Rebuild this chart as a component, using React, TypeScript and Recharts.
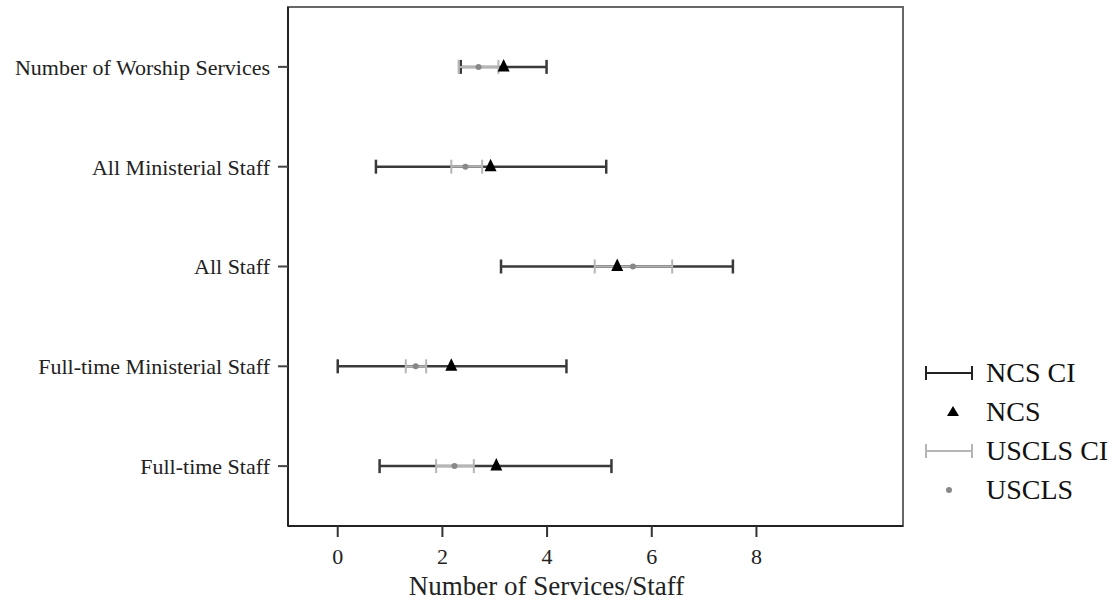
import React from "react"
import {
  ScatterChart,
  Scatter,
  XAxis,
  YAxis,
  ErrorBar,
  ReferenceArea,
} from "recharts"

// categories from top to bottom
const categories = [
  "Number of Worship Services",
  "All Ministerial Staff",
  "All Staff",
  "Full-time Ministerial Staff",
  "Full-time Staff",
]

const ncsMean = [3.17, 2.92, 5.34, 2.17, 3.03]
const ncsLow = [2.35, 0.73, 3.12, 0.0, 0.8]
const ncsHigh = [3.99, 5.13, 7.55, 4.37, 5.23]

const usclsMean = [2.69, 2.44, 5.64, 1.49, 2.23]
const usclsLow = [2.31, 2.17, 4.91, 1.3, 1.88]
const usclsHigh = [3.07, 2.76, 6.39, 1.69, 2.6]

const xTicks = [0, 2, 4, 6, 8]

const FONT = '"Liberation Serif", "Times New Roman", serif'

const ncsData = categories.map((_, i) => ({
  y: i + 1,
  x: ncsMean[i],
  err: [ncsMean[i] - ncsLow[i], ncsHigh[i] - ncsMean[i]],
}))

const usclsData = categories.map((_, i) => ({
  y: i + 1,
  x: usclsMean[i],
  err: [usclsMean[i] - usclsLow[i], usclsHigh[i] - usclsMean[i]],
}))

const Nothing = () => <g />

const Triangle = (props: any) => {
  const { cx, cy } = props
  return (
    <polygon
      points={`${cx},${cy - 8} ${cx - 6},${cy + 4.5} ${cx + 6},${cy + 4.5}`}
      fill="#000"
    />
  )
}

const Dot = (props: any) => {
  const { cx, cy } = props
  return <circle cx={cx} cy={cy} r={3} fill="#888" />
}

const legendItems = [
  { label: "NCS CI", kind: "ci", color: "#222" },
  { label: "NCS", kind: "tri", color: "#000" },
  { label: "USCLS CI", kind: "ci", color: "#b5b5b5" },
  { label: "USCLS", kind: "dot", color: "#888" },
]

function LegendBox() {
  return (
    <div
      style={{
        position: "absolute",
        left: 920,
        top: 353,
        fontFamily: FONT,
        fontSize: 28,
        color: "#111",
      }}
    >
      {legendItems.map((it) => (
        <div key={it.label} style={{ display: "flex", alignItems: "center", height: 39 }}>
          <svg width={62} height={24} style={{ marginRight: 4 }}>
            {it.kind === "ci" && (
              <g stroke={it.color} strokeWidth={2}>
                <line x1={6} y1={12} x2={52} y2={12} />
                <line x1={6} y1={5} x2={6} y2={19} />
                <line x1={52} y1={5} x2={52} y2={19} />
              </g>
            )}
            {it.kind === "tri" && <polygon points="33,6 27,16 39,16" fill={it.color} />}
            {it.kind === "dot" && <circle cx={29} cy={12} r={3} fill={it.color} />}
          </svg>
          <span>{it.label}</span>
        </div>
      ))}
    </div>
  )
}

export default function App() {
  return (
    <div style={{ position: "absolute", left: 0, top: 0, width: 1116, height: 615, background: "#fff" }}>
      <ScatterChart
        width={1116}
        height={615}
        margin={{ top: 7, right: 213, left: 0, bottom: 0 }}
      >
        <ReferenceArea
          x1={-0.95}
          x2={10.8}
          y1={0.4}
          y2={5.6}
          fill="none"
          stroke="#666"
          strokeWidth={2}
          ifOverflow="visible"
        />
        <XAxis
          type="number"
          dataKey="x"
          domain={[-0.95, 10.8]}
          allowDataOverflow
          ticks={xTicks}
          height={89}
          tickSize={11}
          tickMargin={11}
          axisLine={{ stroke: "#222", strokeWidth: 2 }}
          tickLine={{ stroke: "#333", strokeWidth: 2 }}
          tick={{ fill: "#222", fontSize: 22, fontFamily: FONT }}
          label={{
            value: "Number of Services/Staff",
            position: "insideBottom",
            offset: 20,
            dx: -49,
            fill: "#222",
            fontSize: 27,
            fontFamily: FONT,
          }}
        />
        <YAxis
          type="number"
          dataKey="y"
          domain={[0.4, 5.6]}
          allowDataOverflow
          reversed
          ticks={[1, 2, 3, 4, 5]}
          width={288}
          tickSize={10}
          tickMargin={8}
          tickFormatter={(v: number) => categories[v - 1]}
          axisLine={{ stroke: "#222", strokeWidth: 2 }}
          tickLine={{ stroke: "#444", strokeWidth: 2 }}
          tick={{ fill: "#222", fontSize: 22, fontFamily: FONT }}
        />
        <Scatter data={ncsData} shape={Nothing} isAnimationActive={false}>
          <ErrorBar dataKey="err" direction="x" width={7} stroke="#3a3a3a" strokeWidth={2.5} isAnimationActive={false} />
        </Scatter>
        <Scatter data={usclsData} shape={Nothing} isAnimationActive={false}>
          <ErrorBar dataKey="err" direction="x" width={7} stroke="#b5b5b5" strokeWidth={2} isAnimationActive={false} />
        </Scatter>
        <Scatter data={usclsData} shape={Dot} isAnimationActive={false} />
        <Scatter data={ncsData} shape={Triangle} isAnimationActive={false} />
      </ScatterChart>
      <LegendBox />
    </div>
  )
}
